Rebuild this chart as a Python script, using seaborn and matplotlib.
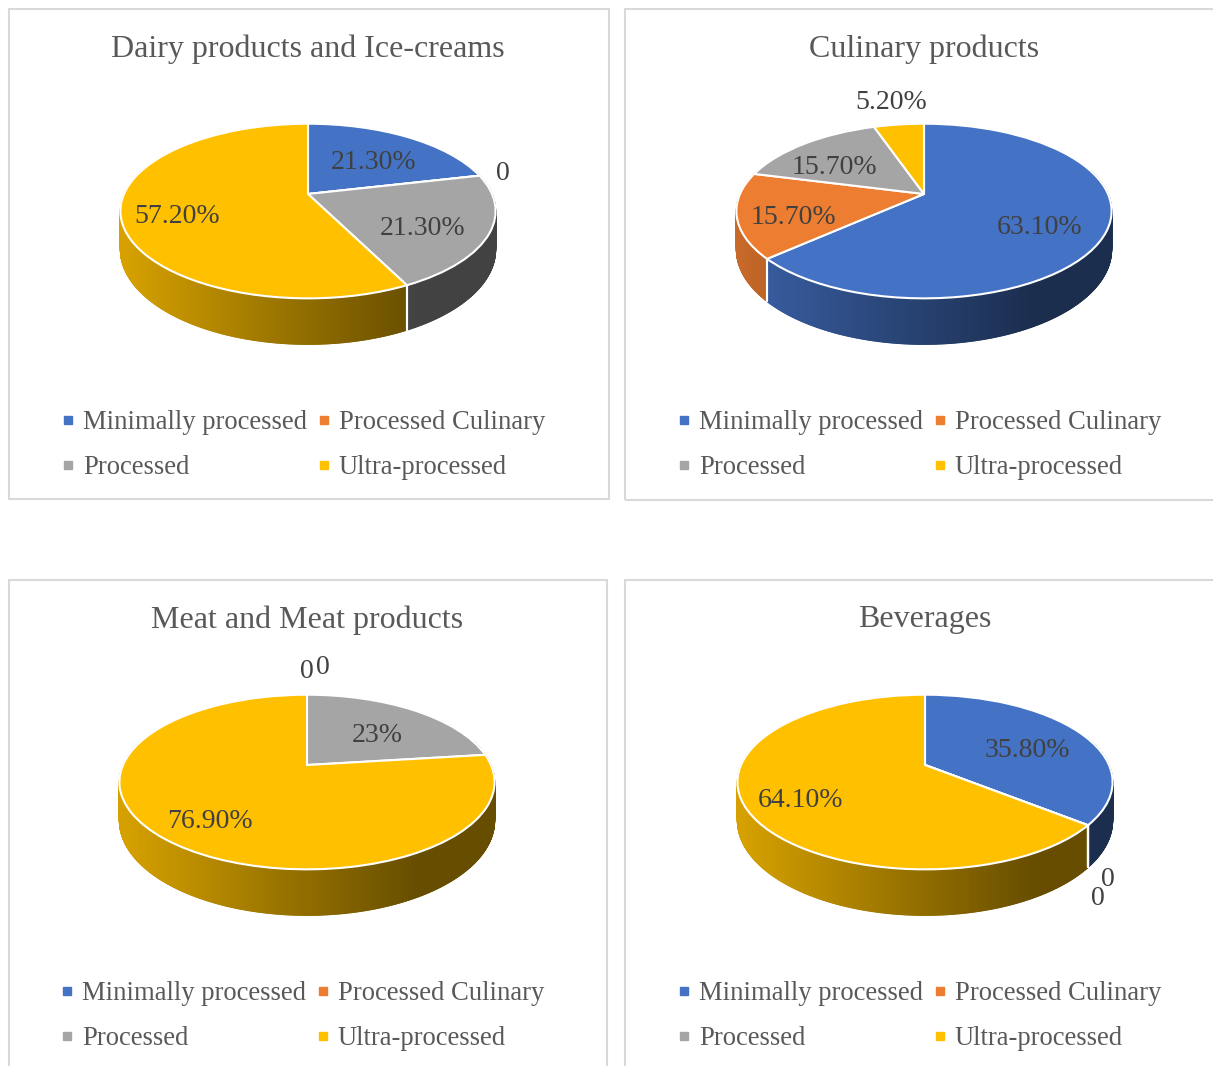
import numpy as np
import matplotlib
matplotlib.use("Agg")
import matplotlib.pyplot as plt
import matplotlib.transforms as mtransforms
from matplotlib.collections import PolyCollection
from matplotlib.colors import to_rgb
from matplotlib.lines import Line2D
from matplotlib.patches import Rectangle
import seaborn as sns

# data
categories = ["Minimally processed", "Processed Culinary", "Processed", "Ultra-processed"]
colors = ["#4472C4", "#ED7D31", "#A5A5A5", "#FFC000"]

titles = ["Dairy products and Ice-creams", "Culinary products",
          "Meat and Meat products", "Beverages"]

dairy_values = [21.3, 0, 21.3, 57.2]
dairy_labels = ["21.30%", "0", "21.30%", "57.20%"]
culinary_values = [63.1, 15.7, 15.7, 5.2]
culinary_labels = ["63.10%", "15.70%", "15.70%", "5.20%"]
meat_values = [0, 0, 23, 76.9]
meat_labels = ["0", "0", "23%", "76.90%"]
beverage_values = [35.8, 0, 0, 64.1]
beverage_labels = ["35.80%", "0", "0", "64.10%"]

sns.set_style("white")
plt.rcParams['font.family'] = ['Liberation Serif', 'DejaVu Serif']

W, H = 1213, 1066
fig = plt.figure(figsize=(W / 100, H / 100), dpi=100)

# panel boxes in pixels: x0, y0, x1, y1 (some run off the image like the screenshot)
panels = [(9, 9, 609, 499), (625, 9, 1230, 500), (9, 580, 607, 1080), (625, 580, 1230, 1080)]
pie_centers = [(308, 194), (924, 194), (307, 765), (925, 765)]
title_y = [49, 49, 620, 620]
legend_pos = [(304, 445), (920, 445), (303, 1016), (920, 1016)]

S, CS, P, DEPTH = 184.0, 84.0, 0.195, 37.0
TEXT = "#595959"
LABEL = "#404040"


class Persp(mtransforms.Transform):
    # tilted disc seen in perspective, unit circle -> pixel coords
    input_dims = 2
    output_dims = 2
    is_separable = False
    has_inverse = False

    def __init__(self, cx, cy):
        super().__init__()
        self.cx, self.cy = cx, cy

    def transform_non_affine(self, values):
        v = np.asarray(values, dtype=float)
        d = 1 + P * v[:, 1]
        return np.column_stack([self.cx + S * v[:, 0] / d, self.cy - CS * v[:, 1] / d])


def proj(cx, cy, x, y, z=0.0):
    d = 1 + P * y
    return (cx + S * x / d, cy - CS * y / d + z * DEPTH / d)


def shade(color, xs):
    f = np.clip(0.84 - 0.44 * (xs + 1) / 1.6, 0.40, 0.84)
    return tuple(np.array(to_rgb(color)) * f)


def draw_panel(ax, i, values, labels):
    x0, y0, x1, y1 = panels[i]
    cx, cy = pie_centers[i]

    wedges, _ = ax.pie(values, colors=colors, startangle=90, counterclock=False,
                       wedgeprops=dict(edgecolor="white", linewidth=1.5))
    tr = Persp(cx, cy) + ax.transData
    for w in wedges:
        w.set_transform(tr)
        w.set_zorder(3)

    ax.set_aspect("auto")
    ax.set_xlim(x0, x1)
    ax.set_ylim(y1, y0)
    ax.set_axis_off()

    # side wall, thin strips shaded left (light) to right (dark)
    strips = []
    for w, c in zip(wedges, colors):
        t1, t2 = w.theta1, w.theta2
        if t2 - t1 < 1e-6:
            continue
        n = max(2, int((t2 - t1) / 0.3))
        ang = np.deg2rad(np.linspace(t1, t2, n + 1))
        for a, b in zip(ang[:-1], ang[1:]):
            m = (a + b) / 2
            ym = np.sin(m)
            if ym > 0.3:
                continue
            verts = [proj(cx, cy, np.cos(a), np.sin(a)), proj(cx, cy, np.cos(b), np.sin(b)),
                     proj(cx, cy, np.cos(b), np.sin(b), 1), proj(cx, cy, np.cos(a), np.sin(a), 1)]
            xs = np.cos(m) / (1 + P * ym)
            strips.append((ym, verts, shade(c, xs)))
    strips.sort(key=lambda t: -t[0])
    cols = [s[2] for s in strips]
    ax.add_collection(PolyCollection([s[1] for s in strips], facecolors=cols,
                                     edgecolors=cols, linewidths=0.8, zorder=1))

    # white seams between slices on the side wall
    for w in wedges:
        for t in (w.theta1, w.theta2):
            r = np.deg2rad(t)
            if np.sin(r) < 0:
                p0 = proj(cx, cy, np.cos(r), np.sin(r))
                p1 = proj(cx, cy, np.cos(r), np.sin(r), 1)
                ax.plot([p0[0], p1[0]], [p0[1], p1[1]], color="white", lw=1.5, zorder=2)

    # data labels
    total = sum(values)
    prev = None
    for w, v, lab in zip(wedges, values, labels):
        m = np.deg2rad((w.theta1 + w.theta2) / 2)
        if v / total >= 0.08:
            pos = np.array(proj(cx, cy, 0.68 * np.cos(m), 0.68 * np.sin(m))) + np.array([-5, 9])
        else:
            e = np.array(proj(cx, cy, np.cos(m), np.sin(m), 1 if np.sin(m) < 0 else 0))
            d = e - np.array([cx, cy])
            pos = e + 23 * d / np.linalg.norm(d)
            if prev is not None and np.linalg.norm(pos - prev) < 5:
                # two zero labels on the same spot, nudge the second one along
                pos = pos + 16 * np.array([np.sin(m), np.cos(m)]) + np.array([0, -4 if np.sin(m) > 0 else 6])
            prev = pos
        ax.text(pos[0], pos[1], lab, ha="center", va="center", fontsize=20,
                color=LABEL, zorder=5)

    ax.text(cx, title_y[i], titles[i], ha="center", va="center", fontsize=23, color=TEXT)

    order = [0, 2, 1, 3]
    handles = [Line2D([], [], marker="s", ls="", color=colors[k], markersize=5.5) for k in order]
    ax.legend(handles, [categories[k] for k in order], ncol=2, loc="center",
              bbox_to_anchor=legend_pos[i], bbox_transform=ax.transData, frameon=False,
              fontsize=19.2, handlelength=0.4, handletextpad=0.35, columnspacing=0.45,
              labelspacing=0.75, borderpad=0, labelcolor=TEXT)

    ax.add_patch(Rectangle((0, 0), 1, 1, transform=ax.transAxes, fill=False,
                           edgecolor="#D9D9D9", linewidth=1.5, clip_on=False, zorder=10))


all_values = [dairy_values, culinary_values, meat_values, beverage_values]
all_labels = [dairy_labels, culinary_labels, meat_labels, beverage_labels]

for i in range(4):
    x0, y0, x1, y1 = panels[i]
    ax = fig.add_axes([x0 / W, 1 - y1 / H, (x1 - x0) / W, (y1 - y0) / H])
    draw_panel(ax, i, all_values[i], all_labels[i])

plt.savefig("out.png", dpi=100)
